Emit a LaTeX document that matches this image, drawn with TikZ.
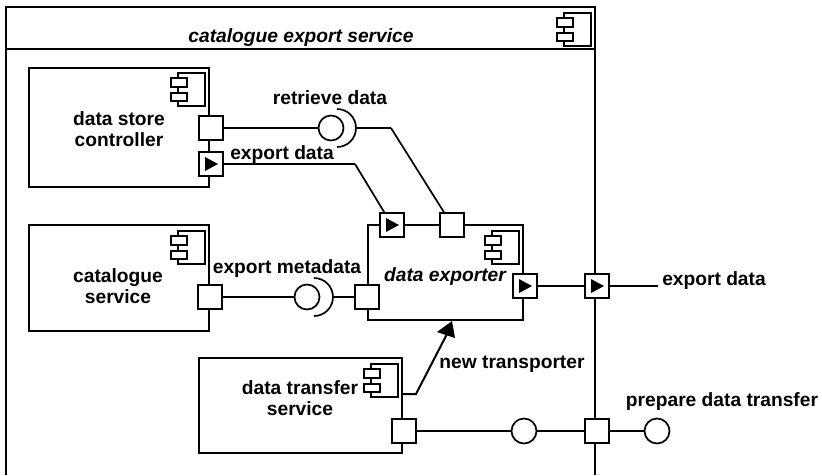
\documentclass[tikz,border=0pt]{standalone}
\usepackage{fontspec}
\setmainfont{Liberation Sans}
\tikzset{
    portbox/.style={rectangle,draw,fill=white,line width=1.7pt,minimum size=23.5pt,inner sep=0pt},
    ballnode/.style={circle,draw,fill=white,line width=1.7pt,minimum size=25pt,inner sep=0pt},
    compbox/.style={draw,line width=1.7pt},
    lbl/.style={font=\bfseries\fontsize{19.2}{21}\selectfont,inner sep=0pt,align=center},
    ilbl/.style={font=\bfseries\itshape\fontsize{19.2}{21}\selectfont,inner sep=0pt,align=center},
    wire/.style={draw,line width=1.7pt}
}
\begin{document}
\begin{tikzpicture}[x=1pt,y=-1pt]
        \useasboundingbox (0,0) rectangle (822,475);
        % boxes
        \draw [compbox] (6,475) -- (6,7) -- (595,7) -- (595,475);
        \draw [compbox] (6,49) -- (595,49);
        \draw [compbox] (29,68) rectangle (209,187);
        \draw [compbox] (29,225) rectangle (209,331);
        \draw [compbox] (368,225) rectangle (523,320);
        \draw [compbox] (199,358) rectangle (402,453);
        % component icons
        \foreach \x/\y in {564/13,178/73,178/231,492/231,371/364} {
            \draw [compbox] (\x,\y) rectangle (\x+27,\y+33);
            \draw [compbox,fill=white] (\x-7,\y+5) rectangle (\x+9,\y+14);
            \draw [compbox,fill=white] (\x-7,\y+20) rectangle (\x+9,\y+28);
        }
        % connectors
        \begin{scope}[every node/.style={portbox}]
            \node (1) at (211,128) {};
            \node (2) at (211,164) {};
            \node (3) at (210,297) {};
            \node (4) at (392,225) {};
            \node (5) at (452,225) {};
            \node (6) at (367,297) {};
            \node (7) at (525,286) {};
            \node (8) at (597,286) {};
            \node (9) at (404,431) {};
            \node (10) at (597,431) {};
        \end{scope}
        \begin{scope}[every node/.style={ballnode}]
            \node (b1) at (331,128) {};
            \node (b2) at (307,297) {};
            \node (b3) at (524,431) {};
            \node (b4) at (657,431) {};
        \end{scope}
        \coordinate (out) at (658,286);
        \coordinate (s1) at (356,128);
        \coordinate (s2) at (333,297);
        \coordinate (k1) at (391,128);
        \coordinate (k2) at (355,164);
        \coordinate (from) at (402,394);
        \coordinate (k3) at (416,394);
        \coordinate (tip) at (447,334);
        \begin{scope}[every edge/.style={wire}]
            \path
                (1) edge (b1)
                (s1) edge (k1)
                (k1) edge (5)
                (2) edge (k2)
                (k2) edge (4)
                (3) edge (b2)
                (s2) edge (6)
                (7) edge (8)
                (8) edge (out)
                (9) edge (b3)
                (b3) edge (10)
                (10) edge (b4);
        \end{scope}
        \draw [compbox] (337,109) arc (-90:90:19);
        \draw [compbox] (314,278) arc (-90:90:19);
        \draw [line width=2pt] (from) -- (k3) -- (tip);
        \fill (452,321) -- (437,332) -- (455,338) -- cycle;
        % port arrows
        \foreach \n in {2,4,7,8} {
            \fill ([xshift=-6pt,yshift=-7pt]\n.center) -- ([xshift=7pt]\n.center) -- ([xshift=-6pt,yshift=7pt]\n.center) -- cycle;
        }
        % labels
        \node (n0) [ilbl] at (301,38) {catalogue export service};
        \node (n1) [lbl] at (119,129) {data store\\controller};
        \node (n2) [lbl] at (118,286) {catalogue\\service};
        \node (n4) [lbl] at (330,98) {retrieve data};
        \node (n5) [lbl] at (282,155) {export data};
        \node (n6) [lbl] at (287,269) {export metadata};
        \node (n7) [ilbl] at (445,277) {data exporter};
        \node (n8) [lbl] at (714,281) {export data};
        \node (n9) [lbl] at (512,364) {new transporter};
        \node (n10) [lbl] at (300,398) {data transfer\\service};
        \node (n11) [lbl] at (722,402) {prepare data transfer};
    \end{tikzpicture}
\end{document}
